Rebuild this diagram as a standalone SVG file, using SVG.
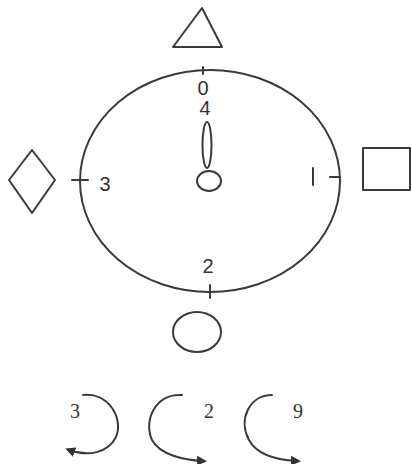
<svg xmlns="http://www.w3.org/2000/svg" width="412" height="464" viewBox="0 0 412 464">
<style>
.s{fill:none;stroke:#3a3a3a;stroke-width:2;stroke-linecap:round;stroke-linejoin:round}
.t{font-family:"Liberation Serif",serif;fill:#333;font-size:20px}
.h{font-family:"Liberation Sans",sans-serif;fill:#333;font-size:20px}
</style>
<defs>
<marker id="ah" markerWidth="10" markerHeight="10" refX="6" refY="5" orient="auto" markerUnits="userSpaceOnUse"><path d="M0,0 L10,5 L0,10 Z" fill="#333"/></marker>
</defs>
<rect width="412" height="464" fill="#fff"/>
<g id="clock">
<ellipse class="s" cx="210" cy="181" rx="130" ry="111"/>
<path class="s" d="M203 67 V74 M72 180 H88 M330 177 H340 M210 285 V298"/>
<text class="h" x="203" y="95" text-anchor="middle" font-size="15">0</text>
<text class="h" x="205" y="115" text-anchor="middle" font-size="14">4</text>
<text class="h" x="105" y="191" text-anchor="middle" font-size="22">3</text>
<path class="s" d="M313 168 V185"/>
<text class="h" x="208" y="273" text-anchor="middle" font-size="21">2</text>
<ellipse class="s" cx="207" cy="145" rx="4.5" ry="23"/>
<ellipse class="s" cx="209" cy="181" rx="12" ry="10"/>
</g>
<g id="triangle"><polygon class="s" points="202,8 222,47 173,47"/></g>
<g id="diamond"><polygon class="s" points="32,150 55,180 32,213 9,180"/></g>
<g id="square"><rect class="s" x="363" y="148" width="47" height="42"/></g>
<g id="circle"><ellipse class="s" cx="197" cy="332" rx="24" ry="20"/></g>
<g id="rotations">
<path class="s" marker-end="url(#ah)" d="M83 395 C108 392 124 418 116 437 C108 453 88 457 69 450"/>
<path class="s" marker-end="url(#ah)" d="M182 395 C156 393 143 420 152 440 C160 455 184 460 203 461"/>
<path class="s" marker-end="url(#ah)" d="M272 395 C249 395 238 420 249 440 C257 455 278 460 297 461"/>
</g>
<g id="labels">
<text class="t" x="75" y="418" text-anchor="middle">3</text>
<text class="t" x="209" y="418" text-anchor="middle">2</text>
<text class="t" x="298" y="418" text-anchor="middle">9</text>
</g>
</svg>
